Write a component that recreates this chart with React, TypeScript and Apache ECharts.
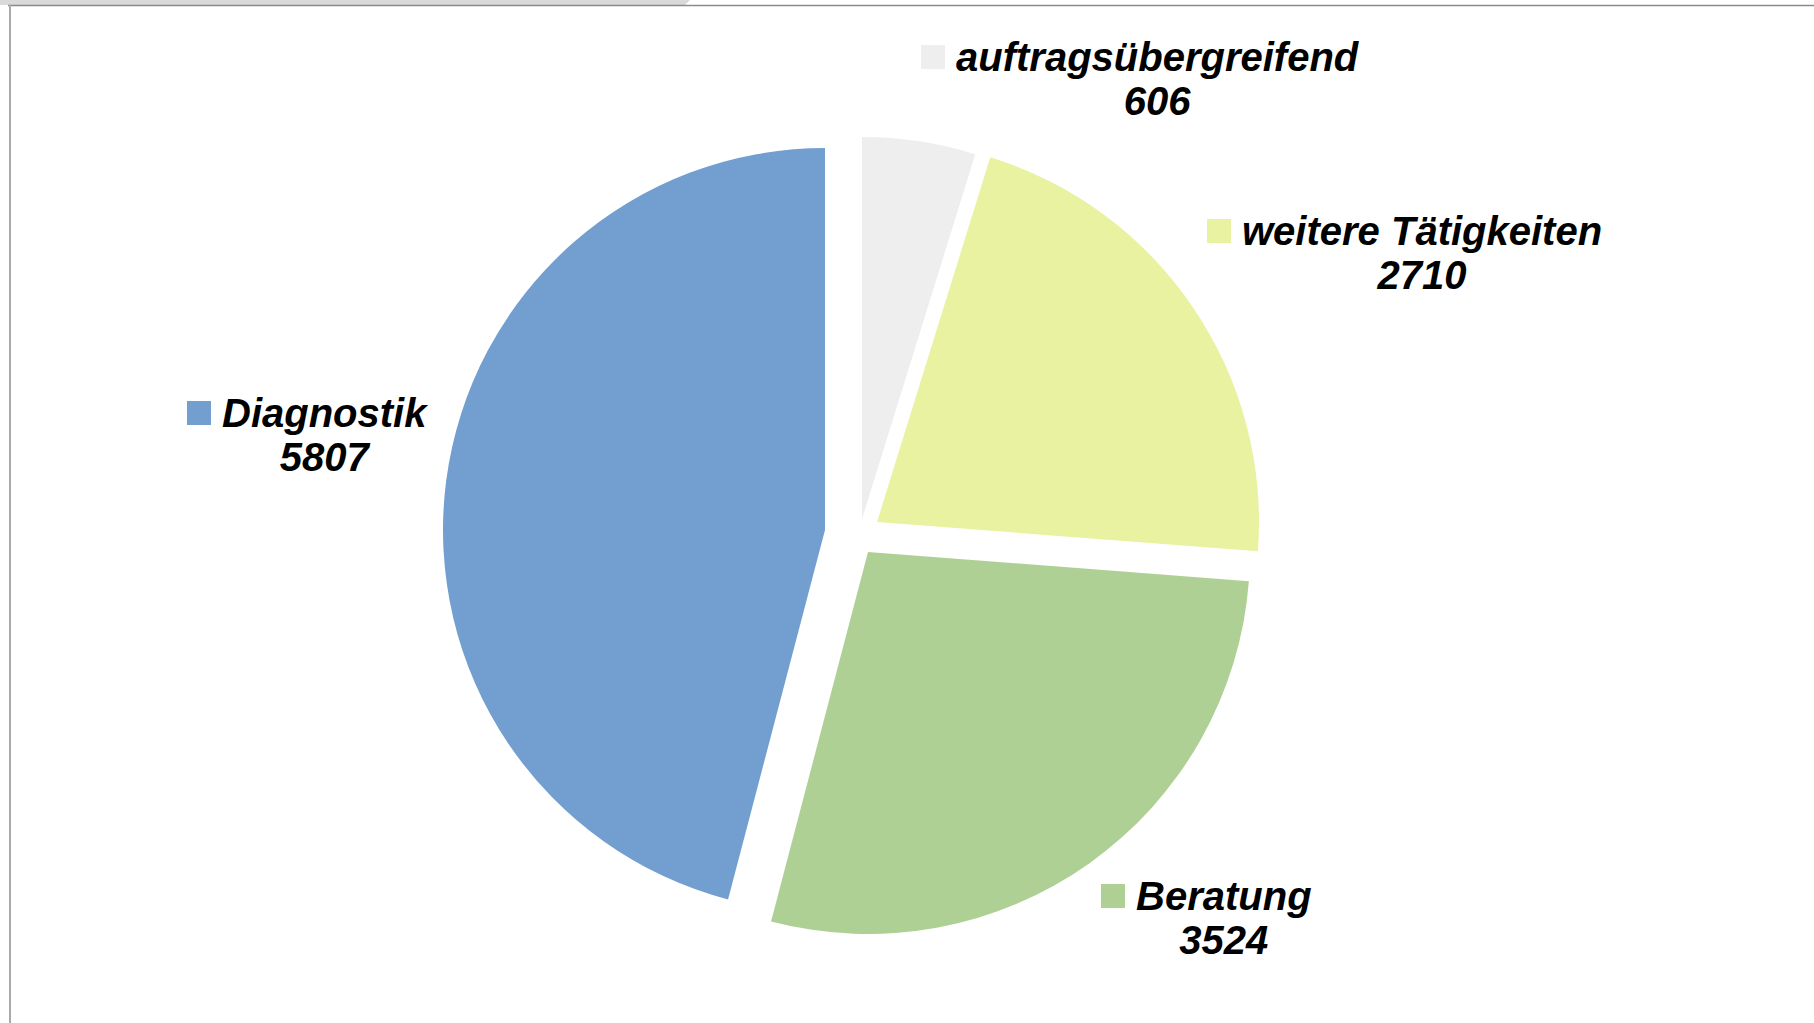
import React, { useEffect, useRef } from "react";
import * as echarts from "echarts";

const categories = ["auftragsübergreifend", "weitere Tätigkeiten", "Beratung", "Diagnostik"];
const values = [606, 2710, 3524, 5807];
const colors = ["#eeeeee", "#e8f2a1", "#afd095", "#729fcf"];

// layout (px): exploded slice centres and label anchors
const sliceCenters = [
  [862, 519],
  [877, 522],
  [868, 552],
  [825, 530],
];
const labelAnchors = [
  [921, 35],
  [1207, 209],
  [1101, 874],
  [187, 391],
];
const RADIUS = 382;

export default function App() {
  const ref = useRef<HTMLDivElement>(null);
  useEffect(() => {
    if (!ref.current) return;
    const chart = echarts.init(ref.current, null, { renderer: "svg" });
    const font = {
      fontFamily: "Liberation Sans",
      fontWeight: "bold" as const,
      fontStyle: "italic" as const,
      fontSize: 40,
      color: "#000000",
      lineHeight: 44,
    };
    const series = categories.map((_, i) => ({
      type: "pie" as const,
      center: sliceCenters[i],
      radius: [0, RADIUS],
      startAngle: 90,
      clockwise: true,
      silent: true,
      avoidLabelOverlap: false,
      emphasis: { disabled: true },
      labelLine: { show: false },
      labelLayout: () => ({
        x: labelAnchors[i][0],
        y: labelAnchors[i][1],
        align: "left",
        verticalAlign: "top",
      }),
      data: categories.map((name, j) => ({
        name,
        value: values[j],
        itemStyle: { color: j === i ? colors[j] : "rgba(0,0,0,0)" },
        label:
          j === i
            ? {
                show: true,
                position: "outside",
                formatter: (p: any) => `{sq| }{name|${p.name}}\n{sp| }{val|${p.value}}`,
                rich: {
                  sq: {
                    width: 24,
                    height: 24,
                    backgroundColor: colors[j],
                    lineHeight: 44,
                    align: "left",
                  },
                  name: { ...font, padding: [0, 0, 0, 11], align: "left" },
                  sp: { width: 35, lineHeight: 44, fontSize: 10, align: "left" },
                  val: { ...font, align: "center" },
                },
              }
            : { show: false },
      })),
    }));
    chart.setOption({
      animation: false,
      backgroundColor: "#ffffff",
      graphic: [
        {
          type: "polygon",
          shape: { points: [[0, 0], [690, 0], [685, 5], [0, 5]] },
          style: { fill: "#d9d9d9" },
          silent: true,
        },
        {
          type: "line",
          shape: { x1: 8, y1: 5.5, x2: 1814, y2: 5.5 },
          style: { stroke: "#8a8a8a", lineWidth: 1.5 },
          silent: true,
        },
        {
          type: "line",
          shape: { x1: 10, y1: 5, x2: 10, y2: 1023 },
          style: { stroke: "#aaaaaa", lineWidth: 2 },
          silent: true,
        },
      ],
      series,
    });
    return () => chart.dispose();
  }, []);
  return (
    <div
      ref={ref}
      style={{ position: "absolute", left: 0, top: 0, width: 1814, height: 1023 }}
    />
  );
}
